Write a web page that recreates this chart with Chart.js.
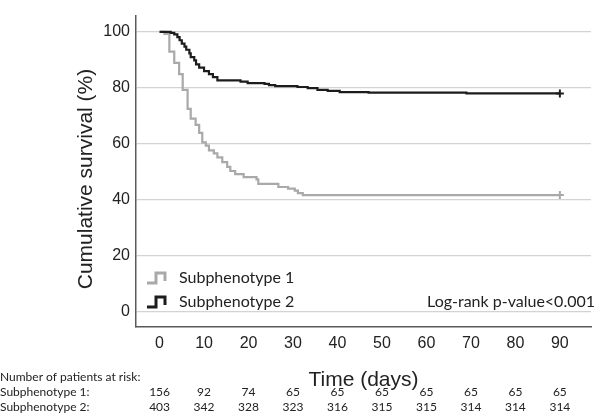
<!DOCTYPE html>
<html><head><meta charset="utf-8">
<script src="https://cdn.jsdelivr.net/npm/chart.js@4"></script>
<style>html,body{margin:0;padding:0;background:#fff}#wrap{width:597px;height:414px;position:relative}</style>
</head><body><div id="wrap"><canvas id="c" width="597" height="414"></canvas></div>
<script>
// ---- data ----
const seriesNames = ['Subphenotype 1', 'Subphenotype 2'];
const days1 = [0, 1.1, 2.2, 3.3, 4.4, 5.2, 6.3, 7.0, 8.1, 8.9, 9.6, 10.4, 11.1, 12.2, 13.0, 14.1, 15.2, 15.9, 17.0, 18.9, 21.8, 22.2, 26.7, 28.9, 30.4, 31.1, 32.2, 90];
const surv1 = [100, 99.3, 92.9, 88.9, 84.9, 79.3, 72.5, 69.0, 66.8, 63.9, 60.5, 59.4, 57.7, 56.6, 55.2, 53.5, 51.8, 50.3, 49.2, 48.1, 47.3, 45.7, 44.6, 44.0, 43.3, 42.4, 41.7, 41.7];
const days2 = [0, 2.5, 3.3, 4.0, 4.5, 5.0, 5.6, 6.0, 6.7, 7.0, 7.8, 8.2, 8.9, 10.0, 11.1, 12.0, 13.0, 18.2, 19.8, 23.6, 24.6, 26.0, 31.0, 33.3, 35.5, 37.8, 40.5, 47, 69, 90];
const surv2 = [100, 99.6, 99.1, 98.1, 97.0, 95.8, 94.7, 93.6, 92.3, 91.0, 89.8, 88.4, 87.2, 86.0, 84.9, 83.8, 82.7, 82.2, 81.7, 81.4, 81.0, 80.6, 80.3, 79.9, 79.3, 78.9, 78.5, 78.3, 78.0, 78.0];
const xTicks = [0, 10, 20, 30, 40, 50, 60, 70, 80, 90];
const yTicks = [0, 20, 40, 60, 80, 100];
const riskDays = [0, 10, 20, 30, 40, 50, 60, 70, 80, 90];
const risk1 = [156, 92, 74, 65, 65, 65, 65, 65, 65, 65];
const risk2 = [403, 342, 328, 323, 316, 315, 315, 314, 314, 314];
const riskHeader = 'Number of patients at risk:';
const riskLabels = ['Subphenotype 1:', 'Subphenotype 2:'];
const pValueText = 'Log-rank p-value<0.001';
const xTitle = 'Time (days)';
const yTitle = 'Cumulative survival (%)';

// ---- styles ----
const GRAY = '#a9a9a9', BLACK = '#1c1c1c';
const AX_FONT = 'Liberation Sans';
const TXT_FONT = 'Lato';

const toPts = (xs, ys) => xs.map((x, i) => ({x, y: ys[i]}));
const endCross = (n) => (ctx) => ctx.dataIndex === n - 1 ? 4 : 0;

const overlay = {
  id: 'overlay',
  afterDraw(chart) {
    const ctx = chart.ctx, xs = chart.scales.x;
    ctx.save();
    // y title
    ctx.fillStyle = '#222';
    ctx.font = '21px "' + AX_FONT + '"';
    ctx.textAlign = 'center'; ctx.textBaseline = 'middle';
    ctx.translate(86, 179); ctx.rotate(-Math.PI / 2);
    ctx.fillText(yTitle, 0, 0);
    ctx.setTransform(1, 0, 0, 1, 0, 0);
    // legend
    const icons = [[GRAY, 278], [BLACK, 302]];
    icons.forEach(([col, cy], i) => {
      ctx.strokeStyle = col; ctx.lineWidth = 3; ctx.lineJoin = 'miter';
      ctx.beginPath();
      ctx.moveTo(147, cy + 5); ctx.lineTo(156, cy + 5); ctx.lineTo(156, cy - 5);
      ctx.lineTo(165, cy - 5); ctx.lineTo(165, cy + 3);
      ctx.stroke();
      ctx.fillStyle = '#222';
      ctx.font = '16px "' + TXT_FONT + '"';
      ctx.textAlign = 'left'; ctx.textBaseline = 'middle';
      ctx.fillText(seriesNames[i], 179, cy);
    });
    ctx.textAlign = 'right';
    ctx.fillText(pValueText, 595, 302);
    // risk table
    ctx.font = '12px "' + TXT_FONT + '"';
    ctx.textAlign = 'left';
    ctx.fillText(riskHeader, 0, 377);
    ctx.fillText(riskLabels[0], 0, 392);
    ctx.fillText(riskLabels[1], 0, 407);
    ctx.textAlign = 'center';
    riskDays.forEach((d, i) => {
      const px = xs.getPixelForValue(d);
      ctx.fillText(String(risk1[i]), px, 392);
      ctx.fillText(String(risk2[i]), px, 407);
    });
    ctx.restore();
  }
};

new Chart(document.getElementById('c'), {
  type: 'scatter',
  data: {
    datasets: [
      {label: seriesNames[1], data: toPts(days2, surv2), showLine: true, stepped: true,
       borderColor: BLACK, borderWidth: 2.2, pointStyle: 'cross', pointRadius: endCross(days2.length),
       pointBorderColor: BLACK, pointBorderWidth: 2, pointHoverRadius: 0, order: 0},
      {label: seriesNames[0], data: toPts(days1, surv1), showLine: true, stepped: true,
       borderColor: GRAY, borderWidth: 2.2, pointStyle: 'cross', pointRadius: endCross(days1.length),
       pointBorderColor: GRAY, pointBorderWidth: 2, pointHoverRadius: 0, order: 1}
    ]
  },
  options: {
    responsive: false, animation: false, devicePixelRatio: 1,
    layout: {padding: 0},
    plugins: {legend: {display: false}, tooltip: {enabled: false}, title: {display: false}},
    scales: {
      x: {
        type: 'linear', min: -5.3, max: 97,
        afterBuildTicks: s => { s.ticks = xTicks.map(v => ({value: v})); },
        afterFit: s => { s.height = 87; },
        ticks: {autoSkip: false, maxRotation: 0, padding: 7, color: '#222', font: {family: AX_FONT, size: 16}},
        grid: {display: false, drawTicks: false},
        border: {display: true, color: '#5a5a5a', width: 1.5},
        title: {display: true, text: xTitle, color: '#222', font: {family: AX_FONT, size: 21}, padding: {top: 0, bottom: 21}}
      },
      y: {
        min: -5.4, max: 105.8,
        afterBuildTicks: s => { s.ticks = yTicks.map(v => ({value: v})); },
        afterFit: s => { s.width = 136; },
        ticks: {padding: 6, color: '#222', font: {family: AX_FONT, size: 16}},
        grid: {color: '#d3d3d3', lineWidth: 1.3, drawTicks: false},
        border: {display: true, color: '#5a5a5a', width: 1.5}
      }
    }
  },
  plugins: [overlay]
});
</script></body></html>
